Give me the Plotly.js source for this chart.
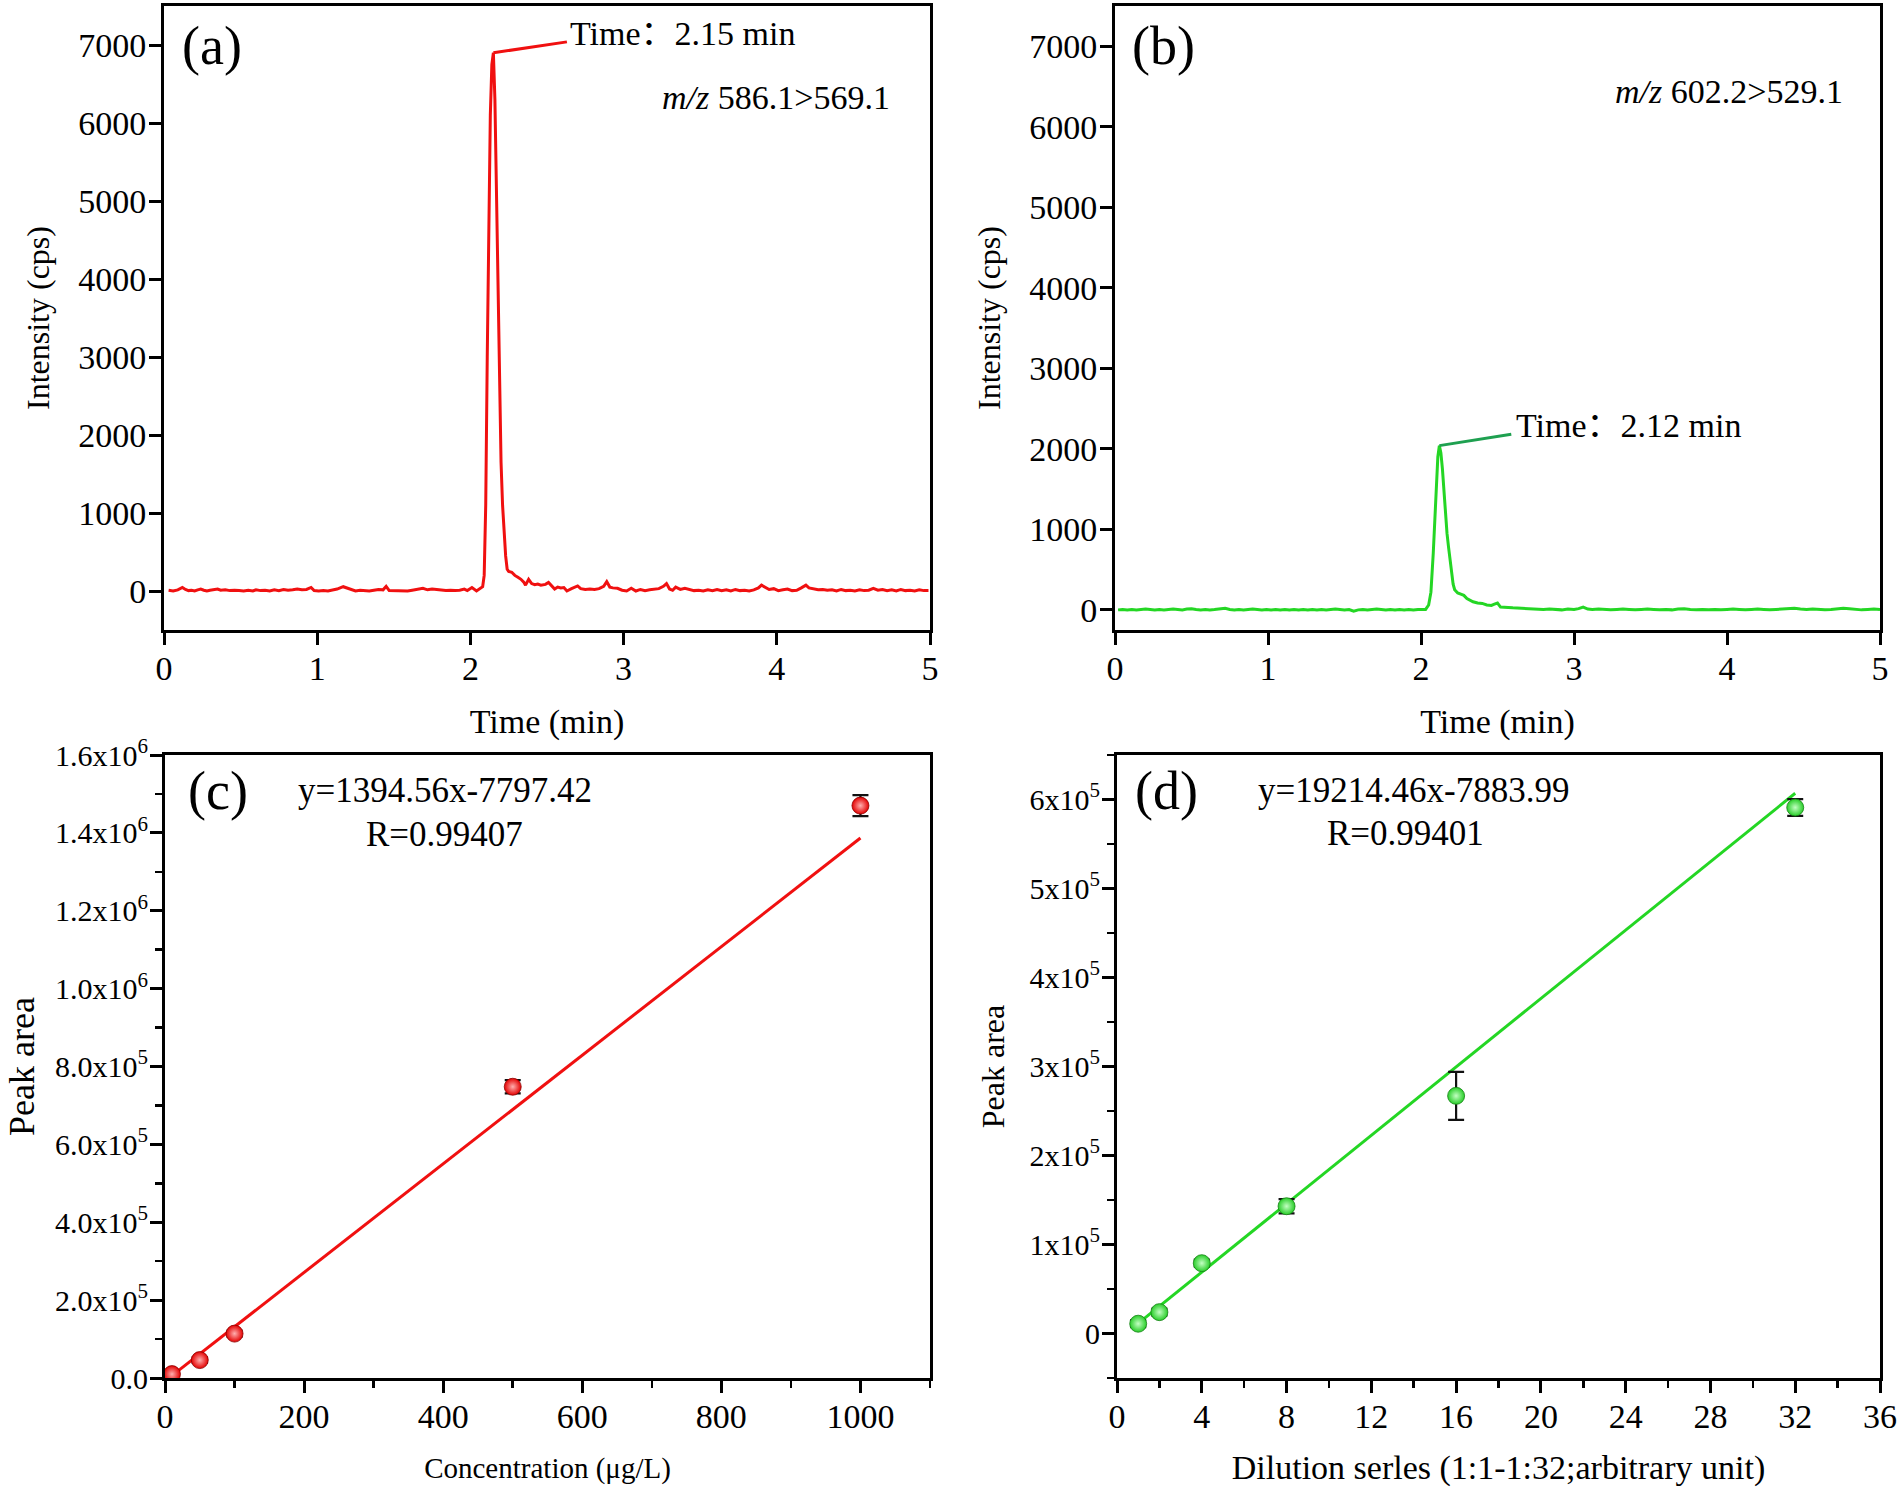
<!DOCTYPE html>
<html>
<head>
<meta charset="utf-8">
<script src="https://cdn.plot.ly/plotly-3.0.1.min.js"></script>
<style>html,body{margin:0;padding:0;background:#fff;}#chart{width:1902px;height:1490px;}</style>
</head>
<body>
<div id="chart"></div>
<script>
// ---------- Panel (a): chromatogram m/z 586.1>569.1 ----------
var timeA = [0.03,0.06,0.09,0.12,0.14,0.16,0.18,0.20,0.22,0.24,0.26,0.28,0.30,0.32,0.35,0.37,0.40,0.43,0.46,0.49,
0.52,0.55,0.58,0.60,0.63,0.66,0.69,0.72,0.75,0.78,0.81,0.84,0.87,0.90,0.93,0.96,0.98,1.01,1.04,1.07,
1.10,1.13,1.17,1.20,1.22,1.25,1.28,1.31,1.34,1.37,1.40,1.43,1.45,1.47,1.50,1.53,1.56,1.59,1.62,1.65,
1.69,1.72,1.75,1.78,1.81,1.84,1.87,1.90,1.93,1.96,1.98,2.01,2.04,2.06,2.08,2.09,2.10,2.11,2.12,2.13,
2.14,2.15,2.16,2.17,2.18,2.19,2.20,2.21,2.22,2.23,2.24,2.25,2.27,2.29,2.31,2.33,2.35,2.36,2.38,2.40,
2.42,2.44,2.46,2.49,2.51,2.53,2.55,2.57,2.59,2.61,2.63,2.66,2.68,2.70,2.72,2.75,2.78,2.81,2.84,2.87,
2.89,2.91,2.93,2.96,2.99,3.02,3.05,3.08,3.11,3.14,3.17,3.20,3.23,3.26,3.28,3.30,3.32,3.34,3.37,3.40,
3.43,3.46,3.49,3.52,3.55,3.58,3.61,3.64,3.67,3.70,3.73,3.76,3.79,3.82,3.85,3.88,3.90,3.92,3.95,3.98,
4.01,4.04,4.07,4.10,4.13,4.16,4.19,4.21,4.24,4.27,4.30,4.33,4.36,4.39,4.42,4.45,4.48,4.51,4.54,4.57,
4.60,4.63,4.66,4.69,4.72,4.75,4.78,4.81,4.84,4.87,4.90,4.93,4.96,4.99];
var intensityA = [10,0,15,45,20,5,10,0,15,25,10,0,10,15,25,10,15,5,10,5,
0,10,0,15,5,10,0,15,5,20,10,15,25,15,20,45,5,0,5,0,
10,25,55,35,15,0,10,5,0,10,20,15,60,5,5,0,5,0,10,20,
35,15,25,20,15,5,10,5,10,25,5,45,0,30,55,200,1100,3000,4900,6100,
6750,6900,6300,5100,3700,2500,1650,1100,750,450,280,250,240,200,175,150,110,75,150,95,
80,90,75,85,110,60,25,50,40,45,0,30,45,65,30,20,25,20,30,60,
120,50,40,35,10,0,35,0,20,5,15,25,30,60,95,25,10,50,20,35,
15,5,10,0,15,5,20,5,15,0,20,5,10,0,15,40,75,50,20,30,
5,15,25,5,10,40,75,40,30,15,20,10,15,0,20,5,10,0,15,5,
10,35,10,20,5,15,0,20,5,10,0,15,5,5];

// ---------- Panel (b): chromatogram m/z 602.2>529.1 ----------
var timeB = [0.02,0.05,0.08,0.11,0.14,0.17,0.20,0.23,0.26,0.29,0.32,0.35,0.38,0.41,0.44,0.47,0.50,0.53,0.56,0.59,
0.62,0.65,0.69,0.72,0.75,0.78,0.81,0.84,0.87,0.90,0.93,0.96,0.99,1.02,1.05,1.08,1.11,1.14,1.17,1.20,
1.23,1.26,1.29,1.32,1.35,1.38,1.41,1.44,1.47,1.50,1.53,1.56,1.59,1.62,1.65,1.68,1.71,1.74,1.77,1.80,
1.83,1.86,1.89,1.92,1.95,1.98,2.01,2.03,2.05,2.065,2.08,2.09,2.10,2.11,2.12,2.13,2.14,2.15,2.16,2.17,
2.18,2.19,2.20,2.21,2.22,2.24,2.26,2.28,2.30,2.32,2.34,2.37,2.40,2.43,2.46,2.48,2.50,2.52,2.54,2.57,
2.60,2.64,2.68,2.72,2.76,2.80,2.84,2.88,2.92,2.96,3.00,3.03,3.06,3.09,3.12,3.16,3.20,3.24,3.28,3.32,
3.36,3.40,3.44,3.48,3.52,3.56,3.60,3.64,3.68,3.72,3.76,3.80,3.84,3.88,3.92,3.96,4.00,4.04,4.08,4.12,
4.16,4.20,4.24,4.28,4.32,4.36,4.40,4.44,4.48,4.52,4.56,4.60,4.64,4.68,4.72,4.76,4.80,4.84,4.88,4.92,
4.96,5.00];
var intensityB = [0,5,0,5,0,5,10,5,0,5,0,5,10,5,0,10,15,5,0,5,
0,5,15,20,5,0,5,0,5,10,5,0,5,0,5,0,5,0,5,0,
5,0,5,0,5,0,5,10,5,0,5,-15,0,5,0,5,10,5,0,5,
0,5,0,5,0,5,0,5,60,220,700,1150,1600,1900,2040,1950,1750,1450,1150,950,
780,620,450,320,250,210,195,180,140,115,100,85,80,60,55,70,85,35,30,30,
25,20,15,15,10,5,10,5,0,10,5,15,35,10,5,10,5,0,5,10,
5,0,5,10,5,0,5,0,10,15,5,0,5,0,5,0,5,10,5,0,
5,10,5,0,5,10,15,20,10,5,10,5,0,5,15,20,15,5,0,5,
10,5];

// ---------- Panel (c): calibration vs concentration ----------
var concC = [10, 50, 100, 500, 1000];
var areaC = [10000, 46000, 114000, 748000, 1470000];
var errC = [5000, 7000, 8000, 17000, 27000];
var fitXC = [10, 1000];
var fitYC = [6148, 1386763];
var yTickValsC = [0, 200000, 400000, 600000, 800000, 1000000, 1200000, 1400000, 1600000];
var yTickTextC = ['0.0','2.0x10<sup>5</sup>','4.0x10<sup>5</sup>','6.0x10<sup>5</sup>','8.0x10<sup>5</sup>',
  '1.0x10<sup>6</sup>','1.2x10<sup>6</sup>','1.4x10<sup>6</sup>','1.6x10<sup>6</sup>'];

// ---------- Panel (d): calibration vs dilution ----------
var dilD = [1, 2, 4, 8, 16, 32];
var areaD = [11000, 24000, 79000, 143000, 267000, 591000];
var errD = [4000, 4000, 4000, 8000, 27000, 9500];
var fitXD = [1, 32];
var fitYD = [11330, 606979];
var yTickValsD = [0, 100000, 200000, 300000, 400000, 500000, 600000];
var yTickTextD = ['0','1x10<sup>5</sup>','2x10<sup>5</sup>','3x10<sup>5</sup>','4x10<sup>5</sup>','5x10<sup>5</sup>','6x10<sup>5</sup>'];

var FONT = 'Liberation Serif, Times New Roman, Noto Sans CJK SC, serif';
var RED = 'rgb(240,16,16)';
var GREEN = 'rgb(36,214,36)';
var W = 1902, H = 1490;
function px(x){return x/W;}
function py(y){return 1 - y/H;}

var traces = [
  {x: timeA, y: intensityA, type:'scatter', mode:'lines', line:{color:RED, width:3}, xaxis:'x', yaxis:'y', showlegend:false},
  {x: timeB, y: intensityB, type:'scatter', mode:'lines', line:{color:GREEN, width:3}, xaxis:'x2', yaxis:'y2', showlegend:false},
  {x: fitXC, y: fitYC, type:'scatter', mode:'lines', line:{color:RED, width:3}, xaxis:'x3', yaxis:'y3', showlegend:false},
  {x: concC, y: areaC, type:'scatter', mode:'markers', xaxis:'x3', yaxis:'y3', showlegend:false,
   error_y:{type:'data', array: errC, visible:true, color:'#111', thickness:2.2, width:8},
   marker:{size:17, color:'rgb(228,0,0)', gradient:{type:'radial', color:'rgb(255,175,175)'}, line:{color:'rgb(140,0,0)', width:0.8}}},
  {x: fitXD, y: fitYD, type:'scatter', mode:'lines', line:{color:GREEN, width:3}, xaxis:'x4', yaxis:'y4', showlegend:false},
  {x: dilD, y: areaD, type:'scatter', mode:'markers', xaxis:'x4', yaxis:'y4', showlegend:false,
   error_y:{type:'data', array: errD, visible:true, color:'#111', thickness:2.2, width:8},
   marker:{size:17, color:'rgb(40,205,40)', gradient:{type:'radial', color:'rgb(195,255,195)'}, line:{color:'rgb(20,130,20)', width:0.8}}}
];

function axisBase(extra){
  var a = {showline:true, linecolor:'#000', linewidth:3, mirror:true, ticks:'outside', ticklen:12, tickwidth:3,
    tickcolor:'#000', showgrid:false, zeroline:false, tickfont:{family:FONT, size:34, color:'#000'}, fixedrange:true};
  for (var k in extra) a[k] = extra[k];
  return a;
}

var layout = {
  width: W, height: H, margin:{l:0, r:0, t:0, b:0}, paper_bgcolor:'#fff', plot_bgcolor:'#fff',
  font:{family:FONT, color:'#000'},
  xaxis: axisBase({domain:[px(164), px(930)], range:[0,5], dtick:1, tick0:0, anchor:'y', ticklabelstandoff:-6,
    title:{text:'Time (min)', font:{family:FONT, size:34}, standoff:24}}),
  yaxis: axisBase({domain:[py(630), py(6)], range:[-500,7500], dtick:1000, tick0:0, anchor:'x', ticklabelstandoff:-4,
    title:{text:'Intensity (cps)', font:{family:FONT, size:32}, standoff:20}}),
  xaxis2: axisBase({domain:[px(1115), px(1880)], range:[0,5], dtick:1, tick0:0, anchor:'y2', ticklabelstandoff:-6,
    title:{text:'Time (min)', font:{family:FONT, size:34}, standoff:24}}),
  yaxis2: axisBase({domain:[py(630), py(6)], range:[-250,7500], dtick:1000, tick0:0, anchor:'x2', ticklabelstandoff:-4,
    title:{text:'Intensity (cps)', font:{family:FONT, size:32}, standoff:20}}),
  xaxis3: axisBase({domain:[px(165), px(930)], range:[0,1100], dtick:200, tick0:0, anchor:'y3', ticklabelstandoff:-6,
    minor:{dtick:100, tick0:0, ticks:'outside', ticklen:7, tickwidth:2.5, tickcolor:'#000'},
    title:{text:'Concentration (μg/L)', font:{family:FONT, size:29}, standoff:24}}),
  yaxis3: axisBase({domain:[py(1378), py(755)], range:[0,1600000], tickmode:'array', tickvals:yTickValsC, ticktext:yTickTextC, anchor:'x3',
    tickfont:{family:FONT, size:30, color:'#000'}, ticklabelstandoff:-4,
    minor:{dtick:100000, tick0:0, ticks:'outside', ticklen:7, tickwidth:2.5, tickcolor:'#000'},
    title:{text:'Peak area', font:{family:FONT, size:36}, standoff:10}}),
  xaxis4: axisBase({domain:[px(1117), px(1880)], range:[0,36], dtick:4, tick0:0, anchor:'y4', ticklabelstandoff:-6,
    minor:{dtick:2, tick0:0, ticks:'outside', ticklen:7, tickwidth:2.5, tickcolor:'#000'},
    title:{text:'Dilution serles (1:1-1:32;arbitrary unit)', font:{family:FONT, size:34}, standoff:22}}),
  yaxis4: axisBase({domain:[py(1378), py(755)], range:[-50000,650000], tickmode:'array', tickvals:yTickValsD, ticktext:yTickTextD, anchor:'x4',
    tickfont:{family:FONT, size:30, color:'#000'}, ticklabelstandoff:-4,
    minor:{dtick:50000, tick0:0, ticks:'outside', ticklen:7, tickwidth:2.5, tickcolor:'#000'},
    title:{text:'Peak area', font:{family:FONT, size:32}, standoff:16}}),
  shapes: [
    {type:'line', xref:'x', yref:'y', x0:2.15, y0:6900, x1:2.63, y1:7040, line:{color:RED, width:3}},
    {type:'line', xref:'x2', yref:'y2', x0:2.12, y0:2040, x1:2.59, y1:2180, line:{color:'rgb(30,160,80)', width:3}}
  ],
  annotations: [
    {text:'(a)', xref:'paper', yref:'paper', x:px(212), y:py(46), xanchor:'center', yanchor:'middle', showarrow:false, font:{family:FONT, size:54}},
    {text:'(b)', xref:'paper', yref:'paper', x:px(1163), y:py(46), xanchor:'center', yanchor:'middle', showarrow:false, font:{family:FONT, size:54}},
    {text:'(c)', xref:'paper', yref:'paper', x:px(218), y:py(791), xanchor:'center', yanchor:'middle', showarrow:false, font:{family:FONT, size:54}},
    {text:'(d)', xref:'paper', yref:'paper', x:px(1166), y:py(791), xanchor:'center', yanchor:'middle', showarrow:false, font:{family:FONT, size:54}},
    {text:'Time：2.15 min', xref:'x', yref:'y', x:2.64, y:7150, xanchor:'left', yanchor:'middle', showarrow:false, font:{family:FONT, size:34}},
    {text:'Time：2.12 min', xref:'x2', yref:'y2', x:2.61, y:2295, xanchor:'left', yanchor:'middle', showarrow:false, font:{family:FONT, size:34}},
    {text:'<i>m/z</i> 586.1>569.1', xref:'paper', yref:'paper', x:px(892), y:py(97), xanchor:'right', yanchor:'middle', showarrow:false, font:{family:FONT, size:34}},
    {text:'<i>m/z</i> 602.2>529.1', xref:'paper', yref:'paper', x:px(1845), y:py(91), xanchor:'right', yanchor:'middle', showarrow:false, font:{family:FONT, size:34}},
    {text:'y=1394.56x-7797.42', xref:'paper', yref:'paper', x:px(445), y:py(790), xanchor:'center', yanchor:'middle', showarrow:false, font:{family:FONT, size:35}},
    {text:'R=0.99407', xref:'paper', yref:'paper', x:px(444), y:py(834), xanchor:'center', yanchor:'middle', showarrow:false, font:{family:FONT, size:35}},
    {text:'y=19214.46x-7883.99', xref:'paper', yref:'paper', x:px(1413), y:py(790), xanchor:'center', yanchor:'middle', showarrow:false, font:{family:FONT, size:35}},
    {text:'R=0.99401', xref:'paper', yref:'paper', x:px(1405), y:py(833), xanchor:'center', yanchor:'middle', showarrow:false, font:{family:FONT, size:35}}
  ]
};

Plotly.newPlot('chart', traces, layout, {displayModeBar:false, staticPlot:true});
</script>
</body>
</html>
